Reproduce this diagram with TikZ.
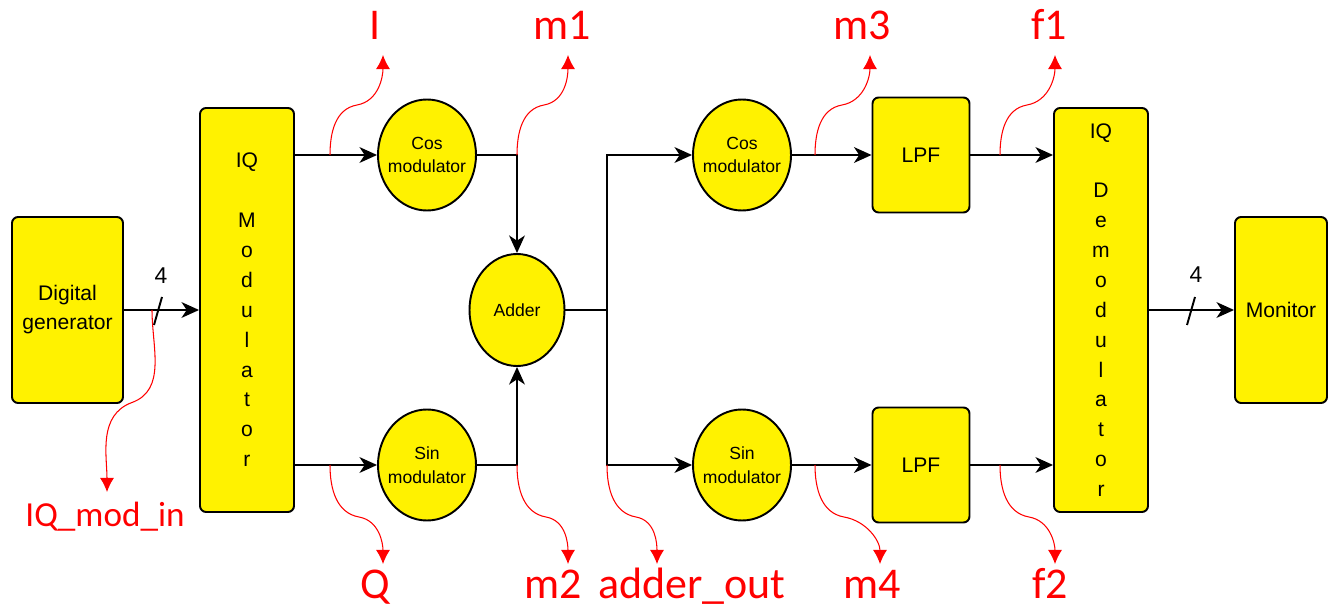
\documentclass[tikz,border=0pt]{standalone}
\usepackage{fontspec}
\setmainfont{Liberation Sans}
\newfontfamily\probefont{Carlito}
\usetikzlibrary{arrows.meta,shapes.geometric}

\begin{document}
\begin{tikzpicture}[
  blk/.style={draw, line width=1.1pt, fill=yellow, rounded corners=3.5pt, align=center, inner sep=0pt, font=\fontsize{12}{16.5}\selectfont},
  modu/.style={draw, line width=1.1pt, fill=yellow, ellipse, minimum width=1.96cm, minimum height=2.22cm, inner xsep=-3pt, inner ysep=0pt, align=center, font=\fontsize{10}{13.5}\selectfont},
  sig/.style={line width=1.1pt, -{Stealth[length=10pt,width=9pt,inset=3pt]}},
  wire/.style={line width=1.1pt},
  probe/.style={red, line width=0.6pt, -{Latex[length=8pt,width=8pt]}},
  plabel/.style={red, font=\probefont\fontsize{25}{25}\selectfont, anchor=base, inner sep=0pt},
]
\useasboundingbox (0,0) rectangle (26.7,-12.16);
% blocks
\node[blk, minimum width=2.22cm, minimum height=3.72cm] (gen) at (1.35,-6.2) {Digital\\generator};
\node[blk, minimum width=1.88cm, minimum height=8.08cm, font=\fontsize{12}{17}\selectfont] (iqmod) at (4.94,-6.2) {IQ\\[17pt]M\\o\\d\\u\\l\\a\\t\\o\\r};
\node[modu] (cosA) at (8.54,-3.1) {Cos\\modulator};
\node[modu] (sinA) at (8.54,-9.3) {Sin\\modulator};
\node[modu, minimum width=1.9cm, minimum height=2.24cm] (add) at (10.34,-6.2) {Adder};
\node[modu] (cosB) at (14.84,-3.1) {Cos\\modulator};
\node[modu] (sinB) at (14.84,-9.3) {Sin\\modulator};
\node[blk, minimum width=1.94cm, minimum height=2.3cm] (lpfA) at (18.42,-3.1) {LPF};
\node[blk, minimum width=1.94cm, minimum height=2.3cm] (lpfB) at (18.42,-9.3) {LPF};
\node[blk, minimum width=1.88cm, minimum height=8.08cm, font=\fontsize{12}{17}\selectfont] (iqdem) at (22.02,-6.2) {IQ\\[17pt]D\\e\\m\\o\\d\\u\\l\\a\\t\\o\\r};
\node[blk, minimum width=1.84cm, minimum height=3.72cm] (mon) at (25.62,-6.2) {Monitor};
% signal lines
\path[draw,sig] (gen.east) -- (iqmod.west);
\path[draw,sig] (iqmod.east |- cosA.west) -- (cosA.west);
\path[draw,sig] (iqmod.east |- sinA.west) -- (sinA.west);
\path[draw,sig] (cosA.east) -| (add.north);
\path[draw,sig] (sinA.east) -| (add.south);
\coordinate (br) at (12.14,-6.2);
\path[draw,wire] (add.east) -- (br);
\path[draw,sig] (br) |- (cosB.west);
\path[draw,sig] (br) |- (sinB.west);
\path[draw,sig] (cosB) -- (lpfA);
\path[draw,sig] (sinB) -- (lpfB);
\path[draw,sig] (lpfA) -- (iqdem.west |- lpfA);
\path[draw,sig] (lpfB) -- (iqdem.west |- lpfB);
\path[draw,sig] (iqdem.east) -- (mon.west);
% bus width marks
\coordinate (s1) at (3.16,-6.22);
\coordinate (s2) at (23.82,-6.22);
\path[draw,wire] ([shift={(-0.08,-0.28)}]s1) -- ([shift={(0.08,0.28)}]s1);
\path[draw,wire] ([shift={(-0.08,-0.28)}]s2) -- ([shift={(0.08,0.28)}]s2);
\node[font=\fontsize{13}{13}\selectfont] (n1) at (3.22,-5.52) {4};
\node[font=\fontsize{13}{13}\selectfont] (n2) at (23.92,-5.5) {4};
% probe points
\coordinate (pI) at (6.6,-3.1);    \coordinate (tI) at (7.66,-1.1);
\coordinate (pm1) at (10.34,-3.1); \coordinate (tm1) at (11.36,-1.1);
\coordinate (pm3) at (16.3,-3.1);  \coordinate (tm3) at (17.4,-1.1);
\coordinate (pf1) at (20.0,-3.1);  \coordinate (tf1) at (21.1,-1.1);
\coordinate (pQ) at (6.6,-9.3);    \coordinate (tQ) at (7.66,-11.28);
\coordinate (pm2) at (10.34,-9.3); \coordinate (tm2) at (11.36,-11.28);
\coordinate (pout) at (12.14,-9.3); \coordinate (tout) at (13.14,-11.28);
\coordinate (pm4) at (16.3,-9.3);  \coordinate (tm4) at (17.6,-11.28);
\coordinate (pf2) at (20.0,-9.3);  \coordinate (tf2) at (21.1,-11.28);
\coordinate (pin) at (3.04,-6.2);  \coordinate (tin) at (2.14,-9.84);
% probe labels
\node[plabel] (lI) at (7.5,-0.8) {I};
\node[plabel] (lm1) at (11.24,-0.8) {m1};
\node[plabel] (lm3) at (17.24,-0.8) {m3};
\node[plabel] (lf1) at (20.98,-0.8) {f1};
\node[plabel] (lQ) at (7.5,-11.96) {Q};
\node[plabel] (lm2) at (11.06,-11.96) {m2};
\node[plabel] (lout) at (13.84,-11.96) {adder\_out};
\node[plabel] (lm4) at (17.44,-11.96) {m4};
\node[plabel] (lf2) at (21.0,-11.96) {f2};
\node[plabel, font=\probefont\fontsize{20}{20}\selectfont] (lin) at (2.1,-10.52) {IQ\_mod\_in};
% probe curves
\path[draw,probe] (pI) to[out=90,in=190] ++(0.54,1.0) to[out=10,in=-90] (tI);
\path[draw,probe] (pm1) to[out=90,in=190] ++(0.54,1.0) to[out=10,in=-90] (tm1);
\path[draw,probe] (pm3) to[out=90,in=190] ++(0.54,1.0) to[out=10,in=-90] (tm3);
\path[draw,probe] (pf1) to[out=90,in=190] ++(0.54,1.0) to[out=10,in=-90] (tf1);
\path[draw,probe] (pQ) to[out=-90,in=170] ++(0.58,-1.04) to[out=-10,in=90] (tQ);
\path[draw,probe] (pm2) to[out=-90,in=170] ++(0.58,-1.04) to[out=-10,in=90] (tm2);
\path[draw,probe] (pout) to[out=-90,in=170] ++(0.58,-1.04) to[out=-10,in=90] (tout);
\path[draw,probe] (pm4) to[out=-90,in=170] ++(0.58,-1.04) to[out=-10,in=90] (tm4);
\path[draw,probe] (pf2) to[out=-90,in=170] ++(0.58,-1.04) to[out=-10,in=90] (tf2);
\path[draw,probe] (pin) to[out=-90,in=20] ++(-0.4,-1.85) to[out=200,in=90] (tin);
\end{tikzpicture}
\end{document}
